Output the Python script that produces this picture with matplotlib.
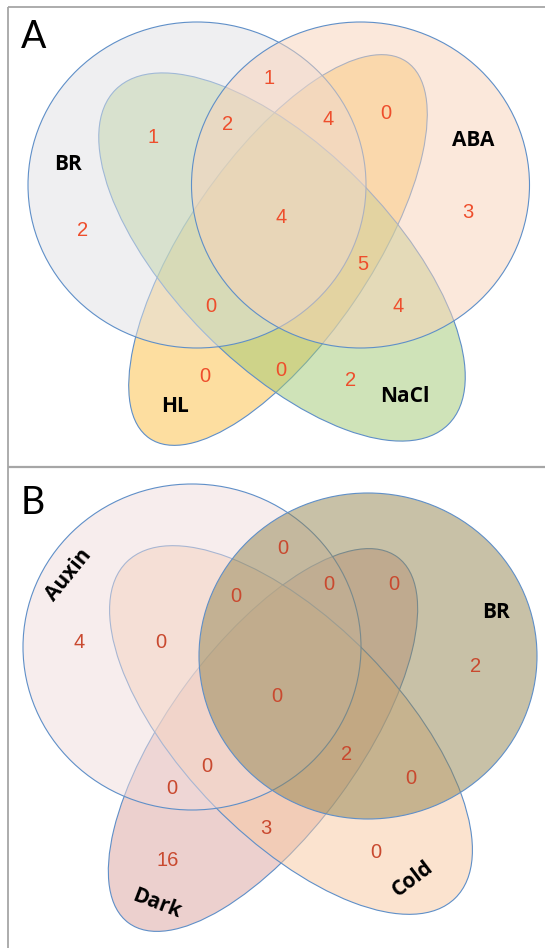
import matplotlib
matplotlib.use("Agg")
import matplotlib.pyplot as plt
from matplotlib.patches import Ellipse

# ---------------- data ----------------
# Panel A: sets and gene counts per intersection region
a_sets = ["HL", "NaCl", "BR", "ABA"]
a_regions = ["BR", "BR&NaCl", "BR&ABA", "BR&ABA&NaCl", "BR&ABA&HL", "ABA&HL",
             "ABA", "BR&ABA&HL&NaCl", "ABA&HL&NaCl", "ABA&NaCl", "BR&HL&NaCl",
             "HL", "HL&NaCl", "NaCl"]
a_counts = [2, 1, 1, 2, 4, 0, 3, 4, 5, 4, 0, 0, 0, 2]

# Panel B
b_sets = ["Dark", "Cold", "Auxin", "BR"]
b_regions = ["Auxin", "Auxin&Cold", "Auxin&BR&Cold", "Auxin&BR", "Auxin&BR&Dark",
             "BR&Dark", "BR", "Auxin&BR&Cold&Dark", "BR&Cold&Dark", "BR&Cold",
             "Auxin&Cold&Dark", "Auxin&Dark", "Cold&Dark", "Dark", "Cold"]
b_counts = [4, 0, 0, 0, 0, 0, 2, 0, 2, 0, 0, 0, 3, 16, 0]

# ---------------- layout (pixel space) ----------------
# shape geometry: center x, center y, width, height, angle, face rgb, face alpha
a_shapes = {
    "HL":   (278, 250, 456, 184, -55.7, (253, 222, 160), 1.0),
    "NaCl": (282, 257, 472, 217, 45.2, (161, 201, 115), 0.5),
    "BR":   (197, 185, 338, 326, 0.0, (225, 225, 229), 0.5),
    "ABA":  (360.5, 185, 338, 326, 0.0, (249, 211, 185), 0.5),
}
b_shapes = {
    "Dark":  (263, 740, 454, 190, -53.7, (236, 208, 206), 1.0),
    "Cold":  (291, 730, 470, 216, 45.7, (249, 201, 161), 0.5),
    "Auxin": (192, 647, 338, 326, 0.0, (241, 221, 221), 0.5),
    "BR":    (368, 656, 338, 326, 0.0, (147, 133, 81), 0.5),
}

a_name_pos = {"BR": (68, 164, 0), "ABA": (473, 140, 0),
              "HL": (175, 407, 0), "NaCl": (405, 397, 0)}
b_name_pos = {"Auxin": (69, 575, 51), "BR": (496, 612, 0),
              "Dark": (157, 904, -21), "Cold": (413, 879, 37)}

a_count_pos = {
    "BR": (83, 230), "BR&NaCl": (153, 137), "BR&ABA": (269, 78),
    "BR&ABA&NaCl": (228, 124), "BR&ABA&HL": (328, 119), "ABA&HL": (386, 113),
    "ABA": (468, 212), "BR&ABA&HL&NaCl": (281, 217), "ABA&HL&NaCl": (363, 264),
    "ABA&NaCl": (398, 306), "BR&HL&NaCl": (211, 306), "HL": (205, 376),
    "HL&NaCl": (281, 370), "NaCl": (351, 381),
}
b_count_pos = {
    "Auxin": (79, 643), "Auxin&Cold": (161, 643), "Auxin&BR&Cold": (236, 596),
    "Auxin&BR": (283, 549), "Auxin&BR&Dark": (329, 584), "BR&Dark": (394, 584),
    "BR": (476, 666), "Auxin&BR&Cold&Dark": (277, 696), "BR&Cold&Dark": (347, 754),
    "BR&Cold": (411, 778), "Auxin&Cold&Dark": (207, 766), "Auxin&Dark": (172, 789),
    "Cold&Dark": (266, 828), "Dark": (168, 860), "Cold": (376, 852),
}

EDGE = "#5f8fc8"
FRAME = "#a6a6a6"

fig = plt.figure(figsize=(5.45, 9.48), dpi=100)
ax = fig.add_axes([0, 0, 1, 1])
ax.set_xlim(0, 545)
ax.set_ylim(948, 0)
ax.axis("off")


def draw_panel(sets, shapes, regions, counts, count_pos, name_pos, num_color):
    for name in sets:
        cx, cy, w, h, ang, rgb, alpha = shapes[name]
        face = tuple(c / 255 for c in rgb) + (alpha,)
        ax.add_patch(Ellipse((cx, cy), w, h, angle=ang, facecolor=face,
                             edgecolor=EDGE, linewidth=0.8))
    for reg, val in zip(regions, counts):
        x, y = count_pos[reg]
        ax.text(x, y, str(val), ha="center", va="center", color=num_color,
                fontsize=14.5, family="Liberation Sans")
    for name in sets:
        x, y, rot = name_pos[name]
        ax.text(x, y, name, ha="center", va="center", rotation=rot,
                fontsize=15, fontweight="bold", family="Open Sans", color="black")


draw_panel(a_sets, a_shapes, a_regions, a_counts, a_count_pos, a_name_pos, "#ee4e2c")
draw_panel(b_sets, b_shapes, b_regions, b_counts, b_count_pos, b_name_pos, "#c9492f")

# panel letters
ax.text(21, 37, "A", fontsize=27, family="Lato", va="center", ha="left")
ax.text(21, 503, "B", fontsize=27, family="Lato", va="center", ha="left")

# panel frames
ax.plot([8, 545], [7, 7], color=FRAME, lw=1.3, solid_capstyle="butt")
ax.plot([8, 8], [7, 948], color=FRAME, lw=1.3, solid_capstyle="butt")
ax.plot([8, 545], [466.5, 466.5], color=FRAME, lw=1.6, solid_capstyle="butt")

fig.savefig("out.png", dpi=100)
